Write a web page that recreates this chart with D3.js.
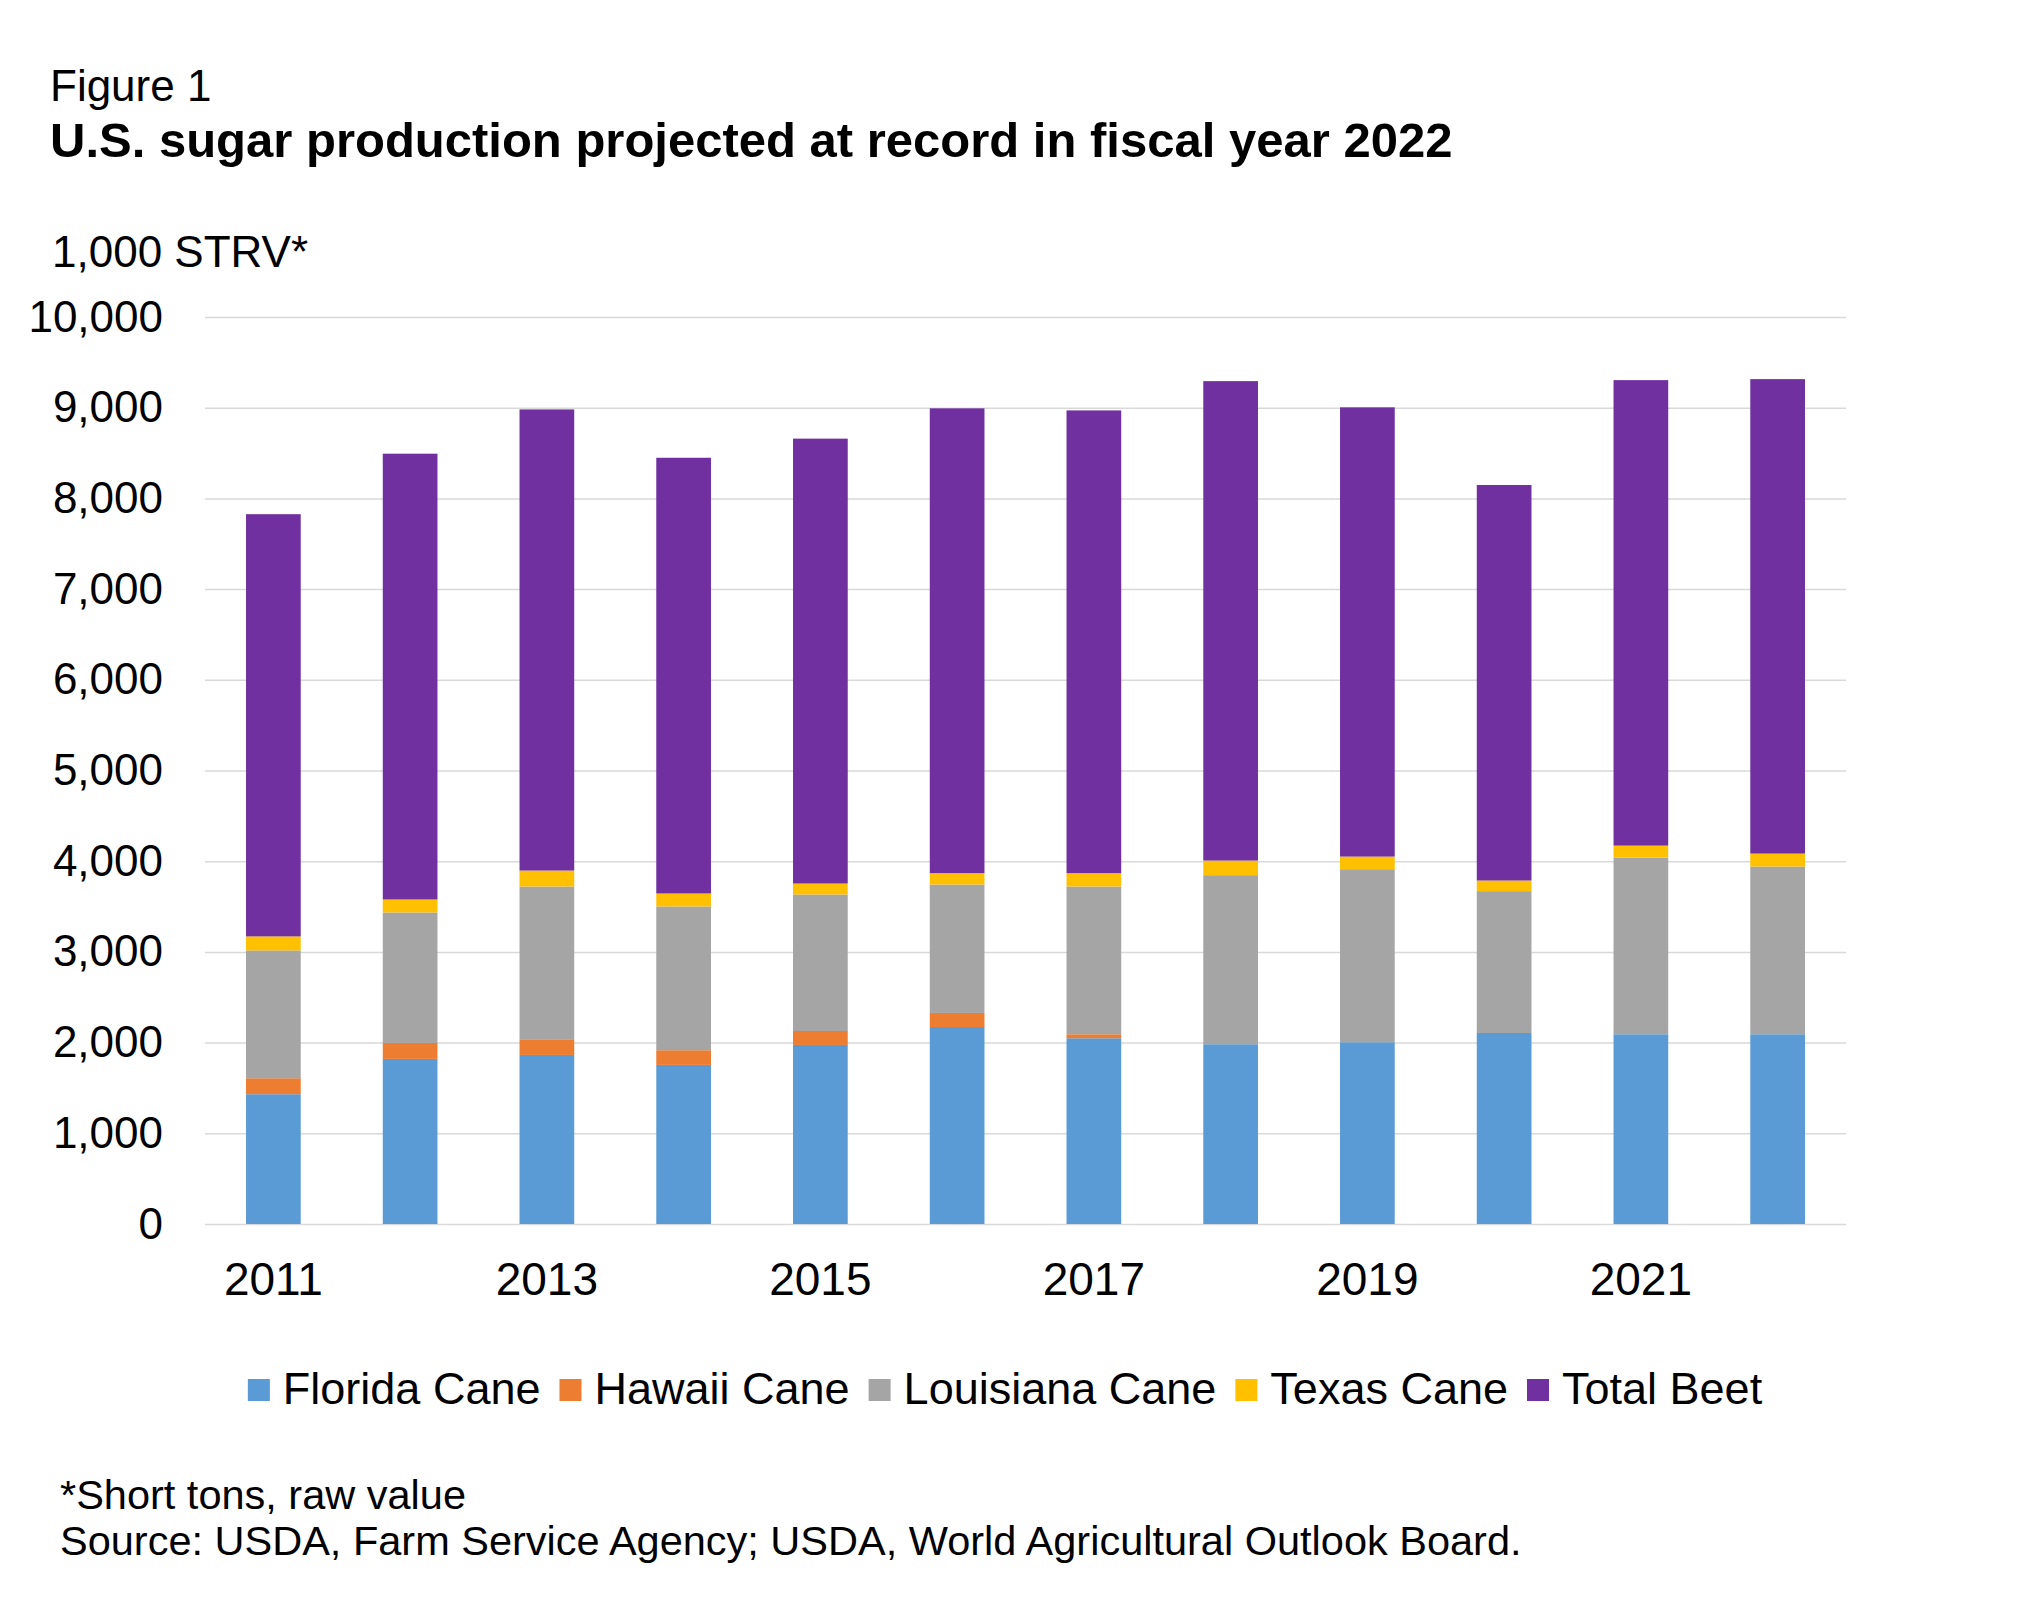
<!DOCTYPE html>
<html>
<head>
<meta charset="utf-8">
<script src="https://cdn.jsdelivr.net/npm/d3@7"></script>
<style>
  body { margin: 0; background: #fff; }
  text { font-family: "Liberation Sans", Arial, sans-serif; fill: #000; }
</style>
</head>
<body>
<svg id="svg" width="2019" height="1600"></svg>
<script>
// values, 1,000 STRV
var years = [2011, 2012, 2013, 2014, 2015, 2016, 2017, 2018, 2019, 2020, 2021, 2022];
var florida = [1431, 1820, 1864, 1754, 1974, 2172, 2048, 1982, 2004, 2106, 2092, 2092];
var hawaii = [176, 176, 173, 162, 154, 155, 44, 0, 0, 0, 0, 0];
var louisiana = [1409, 1439, 1684, 1585, 1505, 1416, 1629, 1864, 1908, 1564, 1948, 1849];
var texas = [155, 143, 176, 143, 121, 125, 147, 161, 139, 117, 132, 143];
var beet = [4655, 4915, 5084, 4804, 4905, 5125, 5102, 5286, 4953, 4361, 5132, 5231];

var seriesNames = ["Florida Cane", "Hawaii Cane", "Louisiana Cane", "Texas Cane", "Total Beet"];
var seriesColors = ["#5B9BD5", "#ED7D31", "#A5A5A5", "#FFC000", "#7030A0"];
var yTicks = [0, 1000, 2000, 3000, 4000, 5000, 6000, 7000, 8000, 9000, 10000];
var xTickLabels = [2011, 2013, 2015, 2017, 2019, 2021];

(function() {
  var svg = d3.select("#svg");

  // plot area (orig pixels)
  var plotLeft = 205, plotRight = 1846, plotTop = 317, plotBottom = 1224;

  // build rows for the stack
  var keys = ["florida", "hawaii", "louisiana", "texas", "beet"];
  var rows = years.map(function(yr, i) {
    return { year: yr, florida: florida[i], hawaii: hawaii[i], louisiana: louisiana[i], texas: texas[i], beet: beet[i] };
  });
  var stacked = d3.stack().keys(keys)(rows);

  var x = d3.scaleBand().domain(years).range([plotLeft, plotRight]).paddingInner(0.6).paddingOuter(0.3);
  var y = d3.scaleLinear().domain([0, 10000]).range([plotBottom, plotTop]);

  // titles
  svg.append("text").attr("x", 50).attr("y", 101).style("font-size", "44px").text("Figure 1");
  svg.append("text").attr("x", 50).attr("y", 157).style("font-size", "49px").style("font-weight", "bold")
    .text("U.S. sugar production projected at record in fiscal year 2022");
  svg.append("text").attr("x", 52).attr("y", 267).style("font-size", "44px").text("1,000 STRV*");

  // y axis with gridlines
  var yAxis = svg.append("g")
    .attr("transform", "translate(" + plotLeft + ",0)")
    .call(d3.axisLeft(y).tickValues(yTicks).tickSize(-(plotRight - plotLeft)).tickPadding(42)
      .tickFormat(d3.format(",")));
  yAxis.select(".domain").remove();
  yAxis.selectAll(".tick line").attr("stroke", "#D9D9D9").attr("stroke-width", 1.5);
  yAxis.selectAll(".tick text").style("font-size", "44px").attr("fill", "#000")
    .style("font-family", "'Liberation Sans', Arial, sans-serif");

  // bars
  svg.append("g").selectAll("g")
    .data(stacked)
    .enter().append("g")
    .attr("fill", function(d, i) { return seriesColors[i]; })
    .selectAll("rect")
    .data(function(d) { return d; })
    .enter().append("rect")
    .attr("x", function(d) { return x(d.data.year); })
    .attr("width", x.bandwidth())
    .attr("y", function(d) { return y(d[1]); })
    .attr("height", function(d) { return y(d[0]) - y(d[1]); });

  // x axis, only every other year labelled
  var xAxis = svg.append("g")
    .attr("transform", "translate(0," + plotBottom + ")")
    .call(d3.axisBottom(x).tickSize(0).tickPadding(38)
      .tickFormat(function(d) { return xTickLabels.indexOf(d) >= 0 ? d : ""; }));
  xAxis.select(".domain").remove();
  xAxis.selectAll(".tick text").style("font-size", "46px").attr("fill", "#000")
    .style("font-family", "'Liberation Sans', Arial, sans-serif");

  // legend
  var legend = svg.append("g");
  var lx = 0;
  seriesNames.forEach(function(name, i) {
    var item = legend.append("g").attr("transform", "translate(" + lx + ",0)");
    item.append("rect").attr("x", 0).attr("y", -25).attr("width", 22).attr("height", 22).attr("fill", seriesColors[i]);
    var t = item.append("text").attr("x", 35).attr("y", 0).style("font-size", "45px").text(name);
    lx += 35 + t.node().getComputedTextLength() + 19;
  });
  lx -= 19;
  legend.attr("transform", "translate(" + (1005 - lx / 2) + ",1404)");

  // footnotes
  svg.append("text").attr("x", 60).attr("y", 1509).style("font-size", "41.5px").text("*Short tons, raw value");
  svg.append("text").attr("x", 60).attr("y", 1555).style("font-size", "41.5px")
    .text("Source: USDA, Farm Service Agency; USDA, World Agricultural Outlook Board.");
})();
</script>
</body>
</html>
